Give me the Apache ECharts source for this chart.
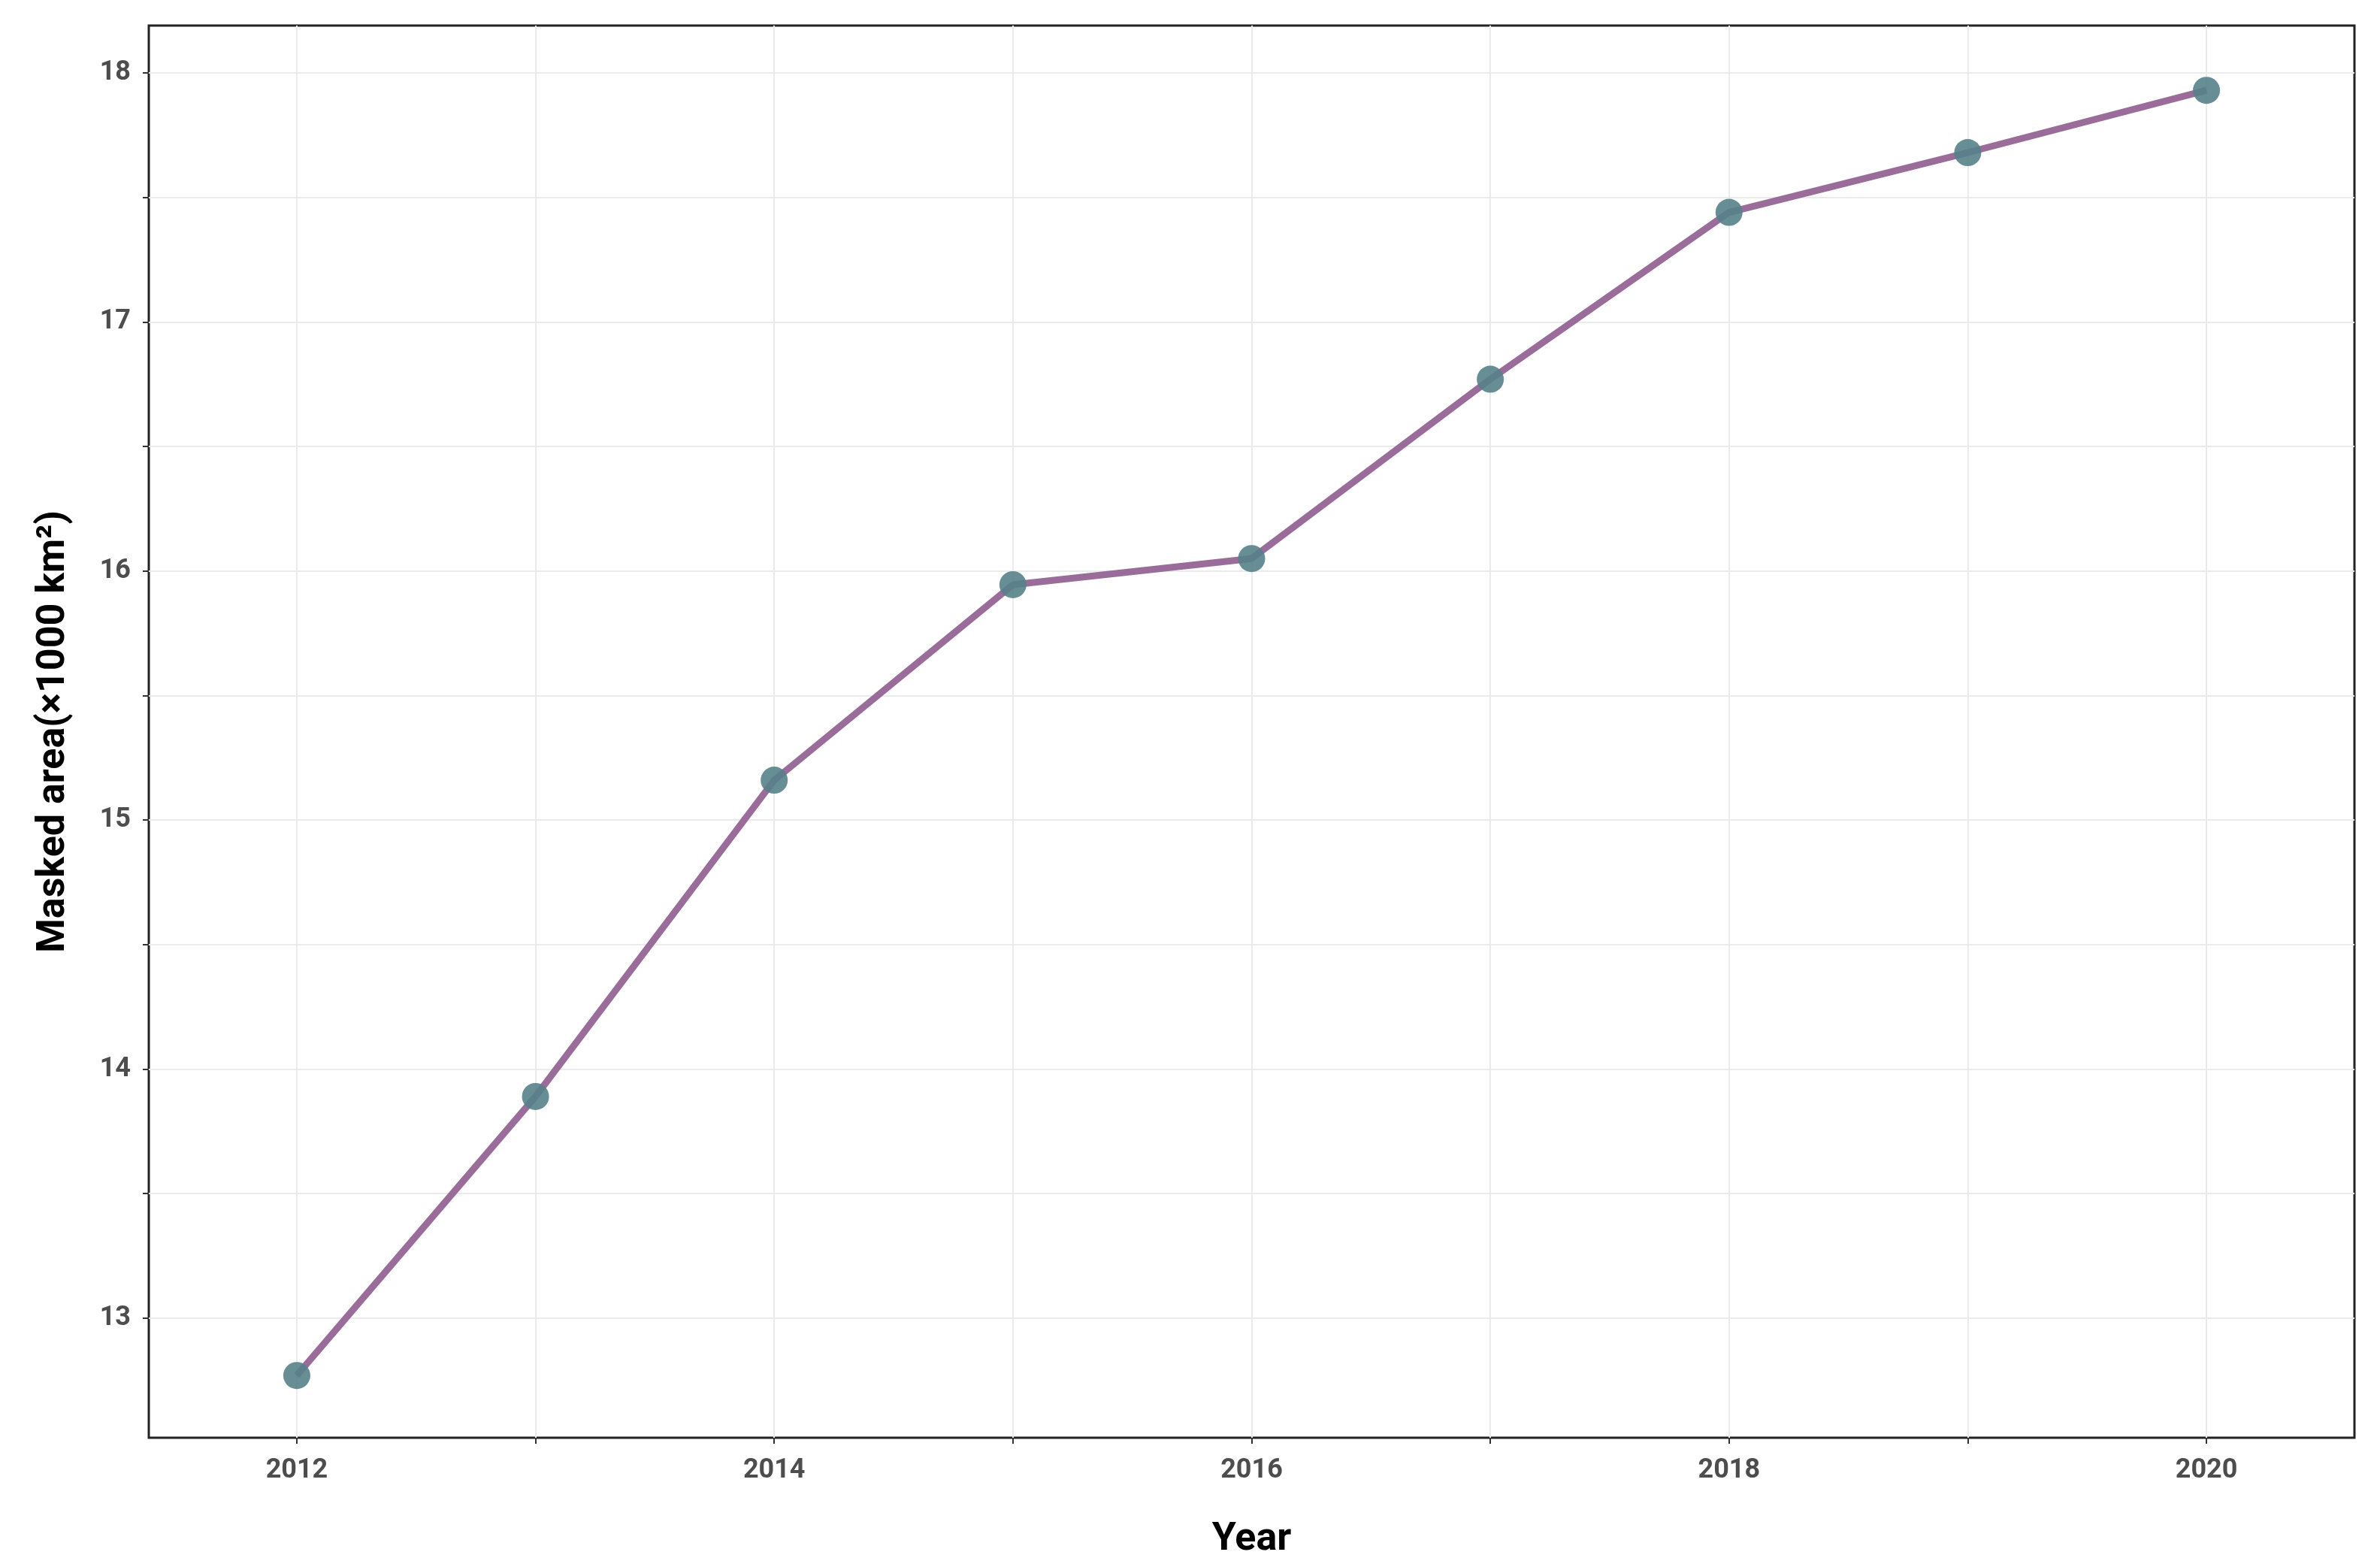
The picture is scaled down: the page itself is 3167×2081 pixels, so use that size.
<!DOCTYPE html>
<html>
<head>
<meta charset="utf-8">
<script src="https://cdn.jsdelivr.net/npm/echarts@6/dist/echarts.min.js"></script>
<style>html,body{margin:0;padding:0;background:#fff}#main{width:3167px;height:2081px}</style>
</head>
<body>
<div id="main"></div>
<script>
var years = [2012, 2013, 2014, 2015, 2016, 2017, 2018, 2019, 2020];
var area = [12.77, 13.89, 15.16, 15.945, 16.05, 16.77, 17.44, 17.68, 17.93];
var xLabels = [2012, 2014, 2016, 2018, 2020];
var yGrid = [12.5, 13, 13.5, 14, 14.5, 15, 15.5, 16, 16.5, 17, 17.5, 18];
var yLabels = [13, 14, 15, 16, 17, 18];

var chart = echarts.init(document.getElementById('main'));
var labelStyle = { fontFamily: 'Roboto', fontWeight: 'bold', fontSize: 36, color: '#4d4d4d' };
var nameStyle = { fontFamily: 'Roboto', fontWeight: 'bold', fontSize: 52, color: '#000' };

chart.setOption({
  animation: false,
  grid: { left: 198, right: 34, top: 34, bottom: 168, show: true, borderColor: '#222', borderWidth: 3 },
  xAxis: {
    type: 'value', min: 2011.38, max: 2020.62,
    name: 'Year', nameLocation: 'middle', nameGap: 110, nameTextStyle: nameStyle,
    axisLine: { show: false },
    axisTick: { show: true, length: 8, lineStyle: { color: '#333', width: 2 }, customValues: years },
    axisLabel: Object.assign({ customValues: xLabels, margin: 26, formatter: function (v) { return String(v); } }, labelStyle),
    splitLine: { show: true, lineStyle: { color: '#ebebeb', width: 2 } }
  },
  yAxis: {
    type: 'value', min: 12.52, max: 18.19,
    name: 'Masked area(×1000 km²)', nameLocation: 'middle', nameGap: 100, nameTextStyle: nameStyle,
    axisLine: { show: false },
    axisTick: { show: true, length: 8, lineStyle: { color: '#333', width: 2 }, customValues: yGrid },
    axisLabel: Object.assign({ customValues: yLabels, margin: 24 }, labelStyle),
    splitLine: { show: true, lineStyle: { color: '#ebebeb', width: 2 } }
  },
  series: [{
    type: 'line',
    data: years.map(function (y, i) { return [y, area[i]]; }),
    lineStyle: { color: '#9a6c99', width: 9 },
    symbol: 'circle', symbolSize: 36,
    itemStyle: { color: '#56818a', opacity: 0.9 }
  }]
});
</script>
</body>
</html>
